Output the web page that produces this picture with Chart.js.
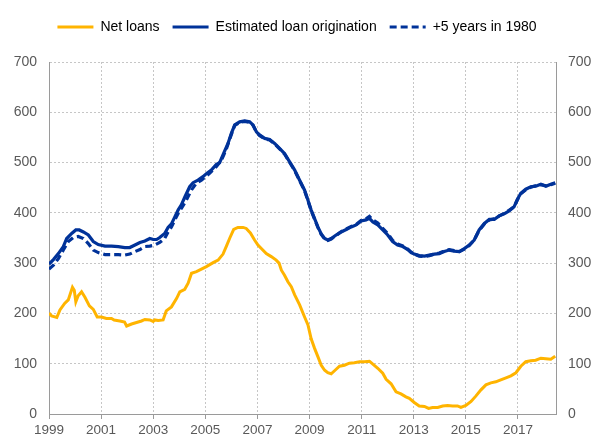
<!DOCTYPE html>
<html>
<head>
<meta charset="utf-8">
<script src="https://cdn.jsdelivr.net/npm/chart.js@4"></script>
<style>
  html, body { margin: 0; padding: 0; overflow: hidden; background: #fff; }
</style>
</head>
<body>
<canvas id="chart" width="594" height="450"></canvas>
<script>
// x tick labels (every other year)
const tickYears = [1999, 2001, 2003, 2005, 2007, 2009, 2011, 2013, 2015, 2017];
const yTicks = [0, 100, 200, 300, 400, 500, 600, 700];

// Net loans
const netYears = [1999.0,1999.1,1999.3,1999.42,1999.6,1999.74,1999.9,1999.97,2000.03,2000.12,2000.25,2000.38,2000.55,2000.7,2000.85,2001.02,2001.2,2001.4,2001.5,2001.72,2001.9,2001.98,2002.17,2002.36,2002.55,2002.68,2002.87,2003.0,2003.06,2003.19,2003.38,2003.5,2003.7,2003.9,2004.02,2004.21,2004.34,2004.47,2004.66,2004.85,2005.04,2005.3,2005.49,2005.68,2005.81,2005.94,2006.09,2006.25,2006.45,2006.57,2006.73,2006.89,2007.02,2007.15,2007.34,2007.53,2007.72,2007.83,2007.92,2008.04,2008.17,2008.3,2008.43,2008.62,2008.81,2008.94,2009.06,2009.19,2009.32,2009.45,2009.58,2009.7,2009.83,2009.96,2010.15,2010.34,2010.53,2010.72,2010.92,2011.11,2011.3,2011.43,2011.62,2011.81,2011.94,2012.13,2012.32,2012.51,2012.7,2012.83,2013.02,2013.21,2013.41,2013.57,2013.72,2013.92,2014.11,2014.3,2014.49,2014.68,2014.81,2015.0,2015.2,2015.39,2015.58,2015.77,2015.96,2016.15,2016.34,2016.54,2016.73,2016.92,2017.11,2017.3,2017.49,2017.68,2017.88,2018.07,2018.26,2018.43];
const netLoans = [201,195,192,207,220,227,252,246,223,235,243,232,215,208,193,193,190,190,187,185,183,175,179,182,185,188,187,184,187,186,187,205,213,230,243,248,260,280,283,288,293,301,306,318,334,350,367,371,371,369,360,346,336,329,319,313,306,300,286,276,263,253,237,217,193,177,150,131,114,97,87,82,80,86,95,97,101,102,104,104,105,99,91,81,69,60,44,40,34,31,23,16,15,11,13,13,16,17,16,16,13,17,25,36,48,58,62,64,68,72,76,82,95,104,106,107,111,110,109,115];

// Estimated loan origination
const origYears = [1999.0,1999.17,1999.36,1999.55,1999.68,1999.87,2000.03,2000.16,2000.32,2000.51,2000.7,2000.89,2001.15,2001.4,2001.66,2001.91,2002.1,2002.3,2002.49,2002.68,2002.87,2003.0,2003.13,2003.25,2003.44,2003.57,2003.7,2003.83,2003.96,2004.08,2004.21,2004.4,2004.53,2004.72,2004.91,2005.04,2005.23,2005.42,2005.55,2005.74,2005.87,2006.0,2006.13,2006.32,2006.51,2006.7,2006.83,2006.96,2007.08,2007.28,2007.47,2007.66,2007.85,2008.04,2008.23,2008.43,2008.62,2008.81,2008.94,2009.06,2009.19,2009.32,2009.45,2009.58,2009.7,2009.83,2010.02,2010.21,2010.41,2010.6,2010.79,2010.98,2011.17,2011.3,2011.43,2011.62,2011.81,2012.0,2012.19,2012.38,2012.58,2012.77,2012.9,2013.02,2013.21,2013.41,2013.6,2013.79,2013.98,2014.17,2014.36,2014.55,2014.75,2014.94,2015.13,2015.32,2015.51,2015.71,2015.9,2016.09,2016.28,2016.47,2016.66,2016.85,2016.98,2017.11,2017.3,2017.49,2017.68,2017.88,2018.07,2018.26,2018.43];
const origination = [298,307,319,333,349,359,366,366,362,356,343,337,334,334,333,331,331,336,341,344,349,347,347,351,359,371,378,392,406,416,431,452,460,465,472,478,485,496,500,523,538,558,575,581,583,581,575,561,555,548,546,538,528,518,502,485,465,445,425,406,389,372,358,349,346,349,356,362,367,372,376,384,386,389,382,376,366,356,343,336,333,327,321,318,315,314,316,318,319,323,326,324,323,329,336,346,366,379,387,387,394,398,404,412,427,439,447,452,453,457,453,457,460];

// +5 years in 1980
const shiftYears = [1999.0,1999.17,1999.36,1999.55,1999.74,1999.93,2000.12,2000.32,2000.51,2000.7,2000.89,2001.15,2001.4,2001.66,2001.91,2002.1,2002.3,2002.49,2002.68,2002.87,2003.06,2003.25,2003.44,2003.57,2003.7,2003.83,2003.96,2004.08,2004.27,2004.47,2004.66,2004.85,2005.04,2005.23,2005.42,2005.61,2005.8,2006.0,2006.13,2006.32,2006.51,2006.7,2006.83,2006.96,2007.08,2007.28,2007.47,2007.66,2007.85,2008.04,2008.23,2008.43,2008.62,2008.81,2008.94,2009.06,2009.19,2009.32,2009.45,2009.58,2009.7,2009.83,2010.02,2010.21,2010.41,2010.6,2010.79,2010.98,2011.17,2011.3,2011.43,2011.62,2011.81,2012.0,2012.19,2012.38,2012.58,2012.77,2012.9,2013.02,2013.21,2013.41,2013.6,2013.79,2013.98,2014.17,2014.36,2014.55,2014.75,2014.94,2015.13,2015.32,2015.51,2015.71,2015.9,2016.09,2016.28,2016.47,2016.66,2016.85,2016.98,2017.11,2017.3,2017.49,2017.68,2017.88,2018.07,2018.26,2018.43];
const shifted = [288,296,309,326,343,351,353,349,339,326,321,317,317,317,316,318,323,327,333,334,336,341,349,362,372,386,399,409,425,446,459,465,473,482,492,504,526,556,574,580,582,580,574,561,554,547,545,537,527,517,501,484,464,444,424,405,388,371,357,348,345,348,355,362,368,373,377,385,388,393,386,380,369,359,345,338,334,328,322,318,314,313,315,318,320,324,327,325,323,328,335,346,365,378,386,388,394,399,405,412,426,438,446,451,454,456,454,456,459];

const grey = '#595959';
const axisGrey = '#9a9a9a';
const font = 'Arial, "Liberation Sans", sans-serif';

const pts = (xs, ys) => xs.map((x, i) => ({ x: x, y: ys[i] }));

// make room under the legend so the plot starts lower
const legendGap = {
  id: 'legendGap',
  beforeInit(chart) {
    const fit = chart.legend.fit;
    chart.legend.fit = function () {
      fit.bind(chart.legend)();
      this.height = 55;
    };
  }
};

new Chart(document.getElementById('chart'), {
  type: 'line',
  data: {
    datasets: [{
      label: 'Net loans',
      data: pts(netYears, netLoans),
      borderColor: '#FFB400',
      borderWidth: 3,
      pointRadius: 0,
      yAxisID: 'y'
    }, {
      label: 'Estimated loan origination',
      data: pts(origYears, origination),
      borderColor: '#003299',
      borderWidth: 3.2,
      pointRadius: 0,
      yAxisID: 'y'
    }, {
      label: '+5 years in 1980',
      data: pts(shiftYears, shifted),
      borderColor: '#003299',
      borderWidth: 3.2,
      borderDash: [7, 4],
      pointRadius: 0,
      yAxisID: 'y'
    }]
  },
  options: {
    responsive: false,
    animation: false,
    devicePixelRatio: 1,
    layout: { padding: { top: 7 } },
    plugins: {
      tooltip: { enabled: false },
      legend: {
        position: 'top',
        labels: {
          usePointStyle: true,
          pointStyleWidth: 36,
          padding: 13,
          color: grey,
          font: { family: font, size: 14 },
          generateLabels: chart => chart.data.datasets.map((ds, i) => ({
            text: ds.label,
            strokeStyle: ds.borderColor,
            fillStyle: ds.borderColor,
            lineWidth: 3,
            lineDash: ds.borderDash || [],
            pointStyle: 'line',
            hidden: false,
            datasetIndex: i
          }))
        }
      }
    },
    scales: {
      x: {
        type: 'linear',
        min: 1999,
        max: 2018.46,
        afterBuildTicks: s => { s.ticks = tickYears.map(v => ({ value: v })); },
        afterFit: s => { s.height = 36; },
        ticks: {
          color: grey,
          font: { family: font, size: 13.5 },
          padding: 3,
          maxRotation: 0,
          autoSkip: false,
          callback: v => String(v)
        },
        grid: {
          color: '#c6c6c6',
          tickLength: 5,
          tickColor: axisGrey,
          tickBorderDash: []
        },
        border: { display: true, color: axisGrey, width: 1, dash: [2, 2] }
      },
      y: {
        position: 'left',
        min: 0,
        max: 700,
        afterBuildTicks: s => { s.ticks = yTicks.map(v => ({ value: v })); },
        afterFit: s => { s.width = 49; },
        ticks: { color: grey, font: { family: font, size: 14 }, padding: 12 },
        grid: { color: '#c6c6c6', drawTicks: false },
        border: { display: true, color: axisGrey, width: 1, dash: [2, 2] }
      },
      y2: {
        position: 'right',
        min: 0,
        max: 700,
        afterBuildTicks: s => { s.ticks = yTicks.map(v => ({ value: v })); },
        afterFit: s => { s.width = 38; },
        ticks: { color: grey, font: { family: font, size: 14 }, padding: 12 },
        grid: { display: false, drawTicks: false },
        border: { display: true, color: axisGrey, width: 1 }
      }
    }
  },
  plugins: [legendGap]
});
</script>
</body>
</html>
